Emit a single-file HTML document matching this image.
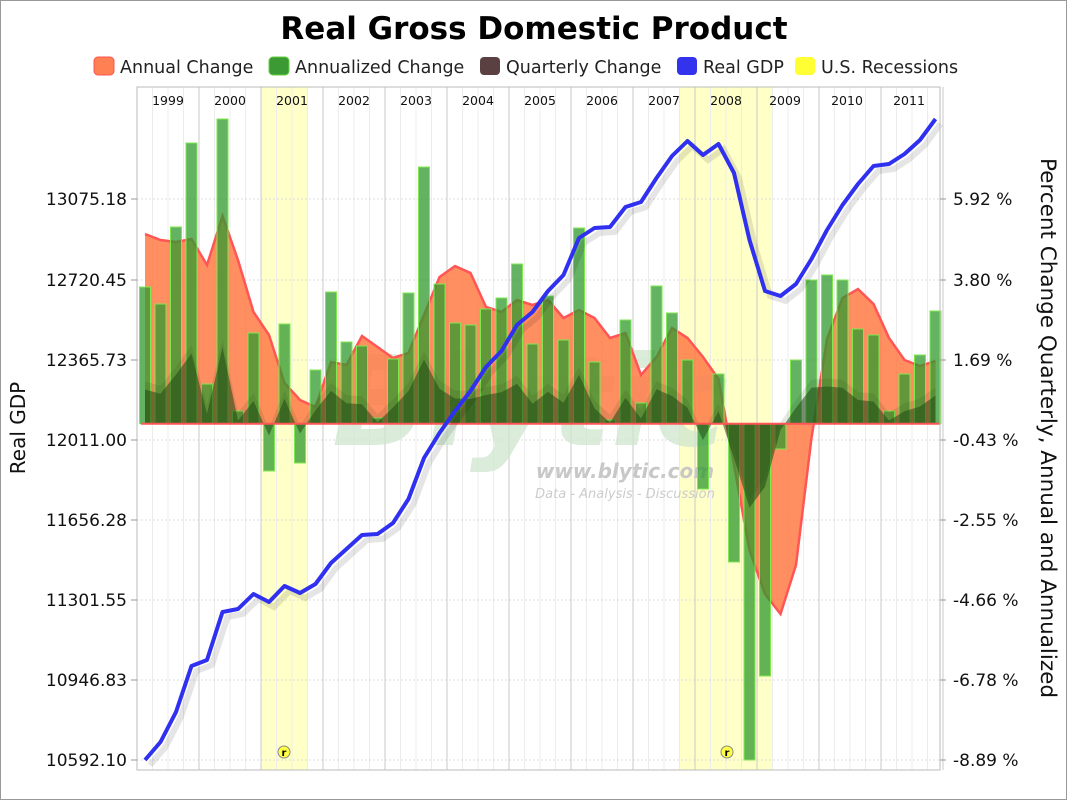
<!DOCTYPE html>
<html><head><meta charset="utf-8">
<style>
html,body{margin:0;padding:0;background:#fff;}
body{width:1067px;height:800px;overflow:hidden;font-family:"DejaVu Sans","Liberation Sans",sans-serif;}
svg text{font-family:"DejaVu Sans","Liberation Sans",sans-serif;}
</style></head>
<body>
<svg id="c" width="1067" height="800" xmlns="http://www.w3.org/2000/svg">
<rect x="0.5" y="0.5" width="1066" height="799" fill="#fff" stroke="#999"/>
<text x="534" y="39" text-anchor="middle" font-size="31" font-weight="bold" fill="#000">Real Gross Domestic Product</text>
<g font-size="17.5" fill="#222">
<rect x="94" y="57" width="20" height="18" rx="4" fill="#ff8052" stroke="#ff5050"/><text x="120" y="73">Annual Change</text>
<rect x="269" y="57" width="20" height="18" rx="4" fill="#3c9a35" stroke="#60d040"/><text x="295" y="73">Annualized Change</text>
<rect x="480" y="57" width="20" height="18" rx="4" fill="#5a4040"/><text x="506" y="73">Quarterly Change</text>
<rect x="677" y="57" width="20" height="18" rx="4" fill="#3333ee"/><text x="703" y="73">Real GDP</text>
<rect x="795" y="57" width="20" height="18" rx="4" fill="#ffff33"/><text x="821" y="73">U.S. Recessions</text>
</g>
<g id="plot"></g>
</svg>
<script>
var NS="http://www.w3.org/2000/svg",g=document.getElementById('plot');
function el(t,a,txt){var e=document.createElementNS(NS,t);for(var k in a)e.setAttribute(k,a[k]);if(txt!=null)e.textContent=txt;g.appendChild(e);return e;}
var L=137,R=940,T=87,B=770,Z=423.7,Q=15.5;
function X(i){return 145+Q*i;}
el('rect',{x:261,y:T,width:46,height:B-T,fill:'#ffffc8'});
el('rect',{x:679,y:T,width:93,height:B-T,fill:'#ffffc8'});
for(var i=0;i<=52;i++){var x=L+Q*i;el('line',{x1:x,y1:T,x2:x,y2:B,stroke:(i%4==0)?'#c8c8c8':'#ececec','stroke-width':1});}
var ys=[199,280,360,440,520,600,680,760];
ys.forEach(function(y){el('line',{x1:L,y1:y,x2:R,y2:y,stroke:'#ddd','stroke-dasharray':'2,2'});});
var yrs=['1999','2000','2001','2002','2003','2004','2005','2006','2007','2008','2009','2010','2011'];
yrs.forEach(function(s,k){el('text',{x:L+62*k+31+(k>9?-3:0),y:105,'text-anchor':'middle','font-size':'12.5',fill:'#111'},s);});
el('text',{x:530,y:445,'font-size':'125','font-weight':'bold','font-style':'italic',fill:'#cfe6cf',opacity:0.75,'text-anchor':'middle'},'Blytic');
el('text',{x:625,y:478,'font-size':'20','font-weight':'bold','font-style':'italic',fill:'#c8c8c8','text-anchor':'middle'},'www.blytic.com');
el('text',{x:625,y:498,'font-size':'13','font-style':'italic',fill:'#ccc','text-anchor':'middle'},'Data - Analysis - Discussion');
var ann=[234,240,242,239,265,216,260,312,335,383,400,407,362,365,336,347,358,353,315,277,266,273,307,312,300,305,300,318,310,318,338,333,375,357,328,338,357,379,465,550,594,614,565,438,339,298,289,304,338,360,366,361];
var bars=[287,304,227,143,384,119,411,333,471,324,463,370,292,342,346,418,359,293,167,284,323,325,309,298,264,344,296,340,228,362,420,320,403,286,313,360,489,374,562,760,676,449,360,280,275,280,329,335,411,374,355,311];
function area(arr,fill,stroke,op){var d='M'+X(0)+','+Z;arr.forEach(function(y,i){d+=' L'+X(i)+','+y;});d+=' L'+X(arr.length-1)+','+Z+' Z';el('path',{d:d,fill:fill,'fill-opacity':op,stroke:'none'});var p='';arr.forEach(function(y,i){p+=(i?' L':'M')+X(i)+','+y;});if(stroke)el('path',{d:p,fill:'none',stroke:stroke,'stroke-width':2.5});}
area(ann,'#ff7a45','#ff5555',0.85);
bars.forEach(function(y,i){var top=Math.min(y,Z),h=Math.abs(y-Z);el('rect',{x:X(i)-5.5,y:top,width:11,height:Math.max(h,1),fill:'#2f9a2f','fill-opacity':0.75,stroke:'#7fe84f','stroke-width':1});});
var qc=bars.map(function(y){return Z-(Z-y)/4;});
area(qc.map(function(y){return y-8;}),'#2a4a1a',null,0.12);
area(qc,'#1f4a14',null,0.55);
el('line',{x1:X(0)-4,y1:Z,x2:X(51)+4,y2:Z,stroke:'#ff5555','stroke-width':2});
var gdp=[760,742,712,666,660,612,609,594,602,586,593,584,563,549,535,534,523,499,458,433,411,391,367,351,325,312,291,275,238,228,227,207,202,178,156,141,155,144,173,240,291,296,284,259,230,205,184,166,164,154,140,119];
var p='',ps='';gdp.forEach(function(y,i){p+=(i?' L':'M')+X(i)+','+y;ps+=(i?' L':'M')+(X(i)+5)+','+(y+5);});
el('path',{d:ps,fill:'none',stroke:'#000','stroke-opacity':0.1,'stroke-width':6});
el('path',{d:p,fill:'none',stroke:'#3030f0','stroke-width':4,'stroke-linejoin':'round'});
[[284,752],[727,752]].forEach(function(c){el('circle',{cx:c[0],cy:c[1],r:6,fill:'#ffff44',stroke:'#888'});el('text',{x:c[0],y:c[1]+4,'font-size':'10','font-weight':'bold','text-anchor':'middle'},'r');});
el('rect',{x:L,y:T,width:R-L,height:B-T,fill:'none',stroke:'#bbb'});
var lv=['13075.18','12720.45','12365.73','12011.00','11656.28','11301.55','10946.83','10592.10'];
var rv=['5.92 %','3.80 %','1.69 %','-0.43 %','-2.55 %','-4.66 %','-6.78 %','-8.89 %'];
ys.forEach(function(y,k){el('text',{x:127,y:y+6,'text-anchor':'end','font-size':'17',fill:'#111'},lv[k]);el('line',{x1:R,y1:y,x2:R+6,y2:y,stroke:'#999'});el('text',{x:953,y:y+6,'font-size':'17',fill:'#111'},rv[k]);el('line',{x1:L-6,y1:y,x2:L,y2:y,stroke:'#999'});});
el('text',{x:25,y:428,'font-size':'20',fill:'#111','text-anchor':'middle',transform:'rotate(-90 25 428)'},'Real GDP');
el('text',{x:1041,y:428,'font-size':'21.5',fill:'#111','text-anchor':'middle',transform:'rotate(90 1041 428)'},'Percent Change Quarterly, Annual and Annualized');
</script>
</body></html>
